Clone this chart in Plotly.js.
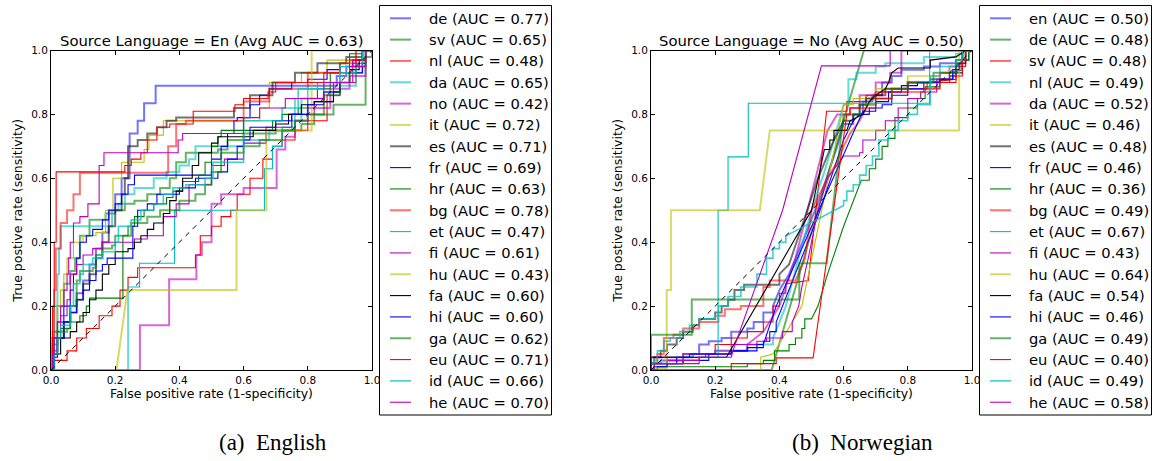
<!DOCTYPE html>
<html>
<head>
<meta charset="utf-8">
<script src="https://cdn.plot.ly/plotly-3.0.1.min.js"></script>
<style>html,body{margin:0;padding:0;background:#fff;}#chart{width:1156px;height:461px;}</style>
</head>
<body>
<div id="chart"></div>
<script>
// ---------- Data: Source language = En (step curves) ----------
const enLangs = ['de','sv','nl','da','no','it','es','fr','hr','bg','et','fi','hu','fa','hi','ga','eu','id','he'];
const enAUC = [0.77,0.65,0.48,0.65,0.42,0.72,0.71,0.69,0.63,0.78,0.47,0.61,0.43,0.60,0.60,0.62,0.71,0.66,0.70];
const enAvgAUC = 0.63;

const en_de_x = [0,0.005,0.02,0.04,0.06,0.08,0.1,0.12,0.14,0.16,0.18,0.2,0.22,0.245,0.27,0.29,0.326,0.89,0.92,0.95,0.97,1];
const en_de_y = [0,0.06,0.1,0.15,0.2,0.24,0.28,0.33,0.38,0.43,0.5,0.55,0.6,0.74,0.78,0.835,0.89,0.92,0.95,0.97,1,1];
const en_sv_x = [0,0.005,0.02,0.04,0.06,0.075,0.09,0.12,0.17,0.2,0.23,0.26,0.3,0.34,0.37,0.39,0.42,0.52,0.55,0.6,0.7,0.78,0.82,0.88,0.98,1];
const en_sv_y = [0,0.12,0.2,0.27,0.31,0.35,0.42,0.47,0.49,0.5,0.52,0.53,0.55,0.57,0.6,0.65,0.68,0.69,0.72,0.74,0.75,0.77,0.8,0.83,1,1];
const en_nl_x = [0,0.01,0.05,0.08,0.11,0.15,0.19,0.215,0.24,0.27,0.45,0.465,0.5,0.53,0.56,0.58,0.62,0.66,0.69,0.72,0.76,0.8,0.86,0.9,0.95,0.98,1];
const en_nl_y = [0,0.03,0.06,0.1,0.13,0.17,0.2,0.25,0.29,0.32,0.36,0.42,0.45,0.48,0.5,0.55,0.6,0.66,0.7,0.72,0.75,0.78,0.86,0.9,0.95,1,1];
const en_da_x = [0,0.005,0.01,0.02,0.025,0.03,0.19,0.21,0.23,0.26,0.32,0.36,0.4,0.43,0.45,0.5,0.6,0.68,0.75,0.78,0.85,0.9,0.95,0.97,1];
const en_da_y = [0,0.1,0.2,0.3,0.38,0.45,0.5,0.52,0.55,0.57,0.6,0.62,0.64,0.66,0.7,0.7,0.72,0.75,0.78,0.85,0.87,0.89,0.93,1,1];
const en_no_x = [0,0.277,0.368,0.453,0.47,0.5,0.53,0.6,0.703,0.73,0.76,0.8,0.87,0.93,0.98,1];
const en_no_y = [0,0.14,0.284,0.36,0.4,0.52,0.55,0.57,0.69,0.73,0.78,0.82,0.88,0.92,1,1];
const en_it_x = [0,0.01,0.02,0.03,0.04,0.05,0.07,0.1,0.14,0.17,0.193,0.22,0.29,0.305,0.35,0.65,0.68,0.78,0.86,0.95,1];
const en_it_y = [0,0.1,0.2,0.25,0.3,0.35,0.4,0.42,0.43,0.5,0.6,0.65,0.69,0.735,0.78,0.82,0.9,0.93,0.97,1,1];
const en_es_x = [0,0.01,0.02,0.04,0.06,0.08,0.1,0.12,0.14,0.16,0.18,0.2,0.22,0.23,0.24,0.27,0.3,0.33,0.36,0.39,0.57,0.62,0.69,0.76,0.83,0.92,0.97,1];
const en_es_y = [0,0.05,0.1,0.15,0.18,0.22,0.27,0.3,0.35,0.4,0.45,0.5,0.55,0.6,0.7,0.72,0.74,0.76,0.78,0.79,0.82,0.86,0.9,0.93,0.96,0.98,1,1];
const en_fr_x = [0,0.005,0.02,0.04,0.06,0.07,0.08,0.09,0.11,0.13,0.16,0.18,0.2,0.22,0.24,0.26,0.5,0.53,0.55,0.57,0.58,0.62,0.65,0.68,0.75,0.8,0.86,0.9,0.94,0.97,1];
const en_fr_y = [0,0.1,0.15,0.2,0.25,0.3,0.35,0.4,0.42,0.44,0.47,0.5,0.52,0.55,0.58,0.61,0.66,0.7,0.74,0.78,0.79,0.83,0.86,0.88,0.9,0.91,0.94,0.95,0.97,1,1];
const en_hr_x = [0,0.01,0.03,0.06,0.09,0.11,0.12,0.224,0.24,0.26,0.29,0.32,0.36,0.38,0.41,0.46,0.48,0.5,0.52,0.53,0.69,0.72,0.77,0.8,0.83,0.87,0.9,0.93,0.97,1];
const en_hr_y = [0,0.1,0.13,0.15,0.17,0.2,0.225,0.42,0.45,0.48,0.5,0.52,0.54,0.56,0.59,0.61,0.65,0.7,0.73,0.75,0.78,0.8,0.82,0.85,0.88,0.93,0.96,0.99,1,1];
const en_bg_x = [0,0.005,0.01,0.015,0.03,0.05,0.07,0.09,0.365,0.39,0.42,0.6,0.68,0.8,0.9,0.95,1];
const en_bg_y = [0,0.1,0.25,0.38,0.46,0.5,0.55,0.617,0.7,0.77,0.78,0.84,0.88,0.93,0.96,1,1];
const en_et_x = [0,0.24,0.276,0.385,0.665,0.69,0.72,0.76,0.8,0.83,0.9,0.97,1];
const en_et_y = [0,0.26,0.334,0.5,0.63,0.7,0.76,0.85,0.88,0.9,0.95,1,1];
const en_fi_x = [0,0.01,0.02,0.03,0.05,0.06,0.08,0.1,0.13,0.16,0.26,0.3,0.35,0.39,0.43,0.5,0.54,0.6,0.67,0.75,0.82,0.88,0.94,0.98,1];
const en_fi_y = [0,0.05,0.12,0.17,0.22,0.3,0.33,0.36,0.38,0.4,0.41,0.42,0.48,0.52,0.58,0.64,0.66,0.71,0.76,0.8,0.84,0.9,0.96,1,1];
const en_hu_x = [0,0.204,0.238,0.578,0.578,0.671,0.671,0.812,0.812,1];
const en_hu_y = [0,0,0.25,0.25,0.5,0.5,0.75,0.75,1,1];
const en_fa_x = [0,0.01,0.03,0.06,0.08,0.1,0.12,0.14,0.16,0.18,0.2,0.24,0.26,0.28,0.3,0.32,0.35,0.37,0.39,0.41,0.44,0.46,0.5,0.52,0.63,0.7,0.74,0.78,0.82,0.88,0.9,0.93,0.96,0.98,1];
const en_fa_y = [0,0.05,0.1,0.12,0.15,0.18,0.22,0.25,0.3,0.33,0.37,0.38,0.4,0.42,0.44,0.46,0.49,0.53,0.56,0.6,0.64,0.68,0.71,0.73,0.75,0.77,0.8,0.83,0.84,0.87,0.9,0.94,0.97,1,1];
const en_hi_x = [0,0.01,0.02,0.04,0.06,0.08,0.1,0.12,0.14,0.16,0.175,0.255,0.27,0.3,0.33,0.4,0.45,0.52,0.55,0.58,0.6,0.62,0.7,0.75,0.8,0.85,0.9,0.93,0.97,0.98,1];
const en_hi_y = [0,0.04,0.1,0.15,0.18,0.22,0.25,0.28,0.31,0.33,0.35,0.45,0.5,0.52,0.55,0.57,0.6,0.62,0.66,0.7,0.72,0.76,0.78,0.8,0.83,0.87,0.9,0.93,0.96,1,1];
const en_ga_x = [0,0.005,0.02,0.05,0.06,0.08,0.09,0.13,0.14,0.16,0.19,0.2,0.25,0.3,0.34,0.4,0.45,0.48,0.5,0.53,0.6,0.65,0.72,0.76,0.8,0.85,0.9,0.93,0.95,0.98,1];
const en_ga_y = [0,0.08,0.12,0.13,0.2,0.28,0.31,0.32,0.36,0.38,0.39,0.42,0.46,0.48,0.5,0.53,0.55,0.58,0.62,0.68,0.7,0.72,0.75,0.78,0.8,0.86,0.9,0.93,0.95,0.98,1];
const en_eu_x = [0,0.005,0.01,0.016,0.23,0.25,0.28,0.3,0.33,0.37,0.443,0.573,0.6,0.676,0.7,0.85,0.93,0.98,1];
const en_eu_y = [0,0.2,0.4,0.62,0.64,0.66,0.68,0.72,0.76,0.77,0.81,0.83,0.85,0.87,0.9,0.93,0.97,1,1];
const en_id_x = [0,0.01,0.02,0.03,0.06,0.07,0.09,0.1,0.13,0.16,0.2,0.21,0.25,0.28,0.32,0.35,0.38,0.42,0.48,0.505,0.6,0.72,0.77,0.85,0.9,0.95,0.97,1];
const en_id_y = [0,0.05,0.1,0.14,0.2,0.27,0.3,0.33,0.35,0.37,0.4,0.45,0.47,0.5,0.52,0.55,0.57,0.58,0.6,0.65,0.78,0.82,0.88,0.9,0.93,0.95,1,1];
const en_he_x = [0,0.005,0.01,0.02,0.03,0.04,0.05,0.055,0.06,0.07,0.09,0.115,0.15,0.165,0.396,0.41,0.6,0.65,0.73,0.85,0.93,0.98,1];
const en_he_y = [0,0.05,0.1,0.15,0.2,0.25,0.3,0.35,0.4,0.46,0.48,0.52,0.64,0.68,0.72,0.74,0.79,0.82,0.85,0.9,0.95,1,1];

// ---------- Data: Source language = No (corner points) ----------
const noLangs = ['en','de','sv','nl','da','it','es','fr','hr','bg','et','fi','hu','fa','hi','ga','eu','id','he'];
const noAUC = [0.50,0.48,0.48,0.49,0.52,0.46,0.48,0.46,0.36,0.49,0.67,0.43,0.64,0.54,0.46,0.49,0.40,0.49,0.58];
const noAvgAUC = 0.50;

const no_en_x = [0,0,0.03,0.03,0.1,0.1,0.13,0.13,0.15,0.15,0.18,0.18,0.22,0.22,0.25,0.25,0.3,0.3,0.32,0.32,0.35,0.35,0.38,0.38,0.4,0.43,0.48,0.53,0.58,0.6,0.63,0.63,0.66,0.66,0.69,0.69,0.72,0.72,0.75,0.75,0.78,0.78,0.85,0.85,0.9,0.9,0.95,0.95,0.97,0.97,1];
const no_en_y = [0,0.02,0.02,0.03,0.03,0.04,0.04,0.05,0.05,0.08,0.08,0.09,0.09,0.1,0.1,0.12,0.12,0.13,0.13,0.15,0.15,0.18,0.18,0.2,0.25,0.3,0.42,0.55,0.7,0.77,0.77,0.8,0.8,0.84,0.84,0.86,0.86,0.9,0.9,0.92,0.92,0.94,0.94,0.95,0.95,0.96,0.96,0.97,0.97,1,1];
const no_de_x = [0,0.376,0.663,1];
const no_de_y = [0,0,1,1];
const no_sv_x = [0,0,0.1,0.1,0.2,0.2,0.25,0.25,0.3,0.3,0.35,0.35,0.38,0.38,0.4,0.4,0.42,0.42,0.49,0.547,0.61,0.61,0.67,0.67,0.72,0.72,0.8,0.8,0.86,0.86,0.95,0.95,0.98,0.98,1];
const no_sv_y = [0,0.02,0.02,0.05,0.05,0.08,0.08,0.1,0.1,0.12,0.12,0.15,0.15,0.2,0.2,0.24,0.24,0.27,0.28,0.81,0.81,0.84,0.84,0.86,0.86,0.87,0.87,0.88,0.88,0.9,0.91,0.95,0.95,1,1];
const no_nl_x = [0,0,0.05,0.05,0.1,0.1,0.2,0.2,0.3,0.3,0.38,0.38,0.42,0.46,0.5,0.54,0.57,0.6,0.615,0.615,0.64,0.64,0.7,0.7,0.73,0.73,0.85,0.85,0.95,0.95,0.97,0.97,1];
const no_nl_y = [0,0.02,0.02,0.03,0.03,0.05,0.05,0.06,0.06,0.08,0.08,0.1,0.2,0.35,0.5,0.62,0.72,0.83,0.83,0.91,0.91,0.93,0.93,0.95,0.95,0.96,0.96,0.98,0.98,0.99,0.99,1,1];
const no_da_x = [0,0,0.1,0.1,0.2,0.2,0.3,0.3,0.35,0.4,0.45,0.5,0.55,0.58,0.62,0.62,0.65,0.65,0.7,0.7,0.745,0.745,0.78,0.78,1];
const no_da_y = [0,0.04,0.04,0.05,0.05,0.06,0.06,0.08,0.12,0.2,0.35,0.55,0.75,0.8,0.8,0.82,0.82,0.86,0.86,0.9,0.9,0.93,0.93,1,1];
const no_it_x = [0,0.342,0.342,0.38,0.47,0.6,0.63,0.63,0.7,0.7,0.8,0.8,0.9,0.9,0.95,0.95,0.97,0.97,1];
const no_it_y = [0,0,0.04,0.05,0.2,0.83,0.83,0.85,0.85,0.88,0.88,0.92,0.92,0.93,0.93,0.96,0.96,1,1];
const no_es_x = [0,0,0.01,0.01,0.03,0.03,0.05,0.05,0.08,0.08,0.1,0.1,0.13,0.13,0.15,0.15,0.2,0.2,0.22,0.22,0.24,0.24,0.26,0.26,0.29,0.29,0.4,0.4,0.43,0.47,0.52,0.57,0.6,0.63,0.63,0.65,0.65,0.67,0.67,0.7,0.7,0.73,0.73,0.8,0.8,0.87,0.87,0.93,0.93,0.95,0.95,0.97,0.97,1];
const no_es_y = [0,0.02,0.02,0.04,0.04,0.06,0.06,0.08,0.08,0.1,0.1,0.12,0.12,0.14,0.14,0.16,0.16,0.18,0.18,0.2,0.2,0.22,0.22,0.25,0.25,0.267,0.267,0.3,0.33,0.45,0.6,0.72,0.78,0.78,0.8,0.8,0.83,0.83,0.85,0.85,0.86,0.86,0.88,0.88,0.9,0.9,0.91,0.91,0.92,0.92,0.96,0.96,1,1];
const no_fr_x = [0,0.02,0.02,0.05,0.05,0.1,0.1,0.18,0.18,0.25,0.25,0.3,0.3,0.35,0.35,0.37,0.37,0.39,0.39,0.41,0.43,0.47,0.52,0.56,0.6,0.63,0.65,0.68,0.68,0.72,0.72,0.75,0.75,0.8,0.8,0.85,0.85,0.9,0.9,0.94,0.94,0.97,0.97,0.99,0.99,1];
const no_fr_y = [0,0,0.01,0.01,0.02,0.02,0.03,0.03,0.05,0.05,0.06,0.06,0.07,0.07,0.09,0.09,0.12,0.12,0.15,0.2,0.25,0.35,0.48,0.6,0.72,0.78,0.8,0.8,0.82,0.82,0.83,0.83,0.86,0.86,0.88,0.88,0.9,0.9,0.91,0.91,0.93,0.93,0.97,0.97,1,1];
const no_hr_x = [0,0.02,0.02,0.3,0.3,0.35,0.35,0.385,0.385,0.43,0.43,0.45,0.45,0.47,0.47,0.479,0.479,0.5,0.52,0.55,0.6,0.63,0.655,0.68,0.68,0.7,0.7,0.72,0.72,0.738,0.738,0.76,0.76,0.8,0.8,0.83,0.83,0.854,0.854,0.9,0.9,0.93,0.93,0.966,0.966,0.99,0.99,1];
const no_hr_y = [0,0,0.01,0.01,0.02,0.02,0.03,0.03,0.06,0.06,0.08,0.08,0.1,0.1,0.13,0.13,0.16,0.16,0.2,0.3,0.45,0.53,0.594,0.594,0.63,0.63,0.66,0.66,0.7,0.7,0.725,0.725,0.79,0.79,0.82,0.82,0.85,0.85,0.886,0.886,0.9,0.9,0.93,0.938,0.97,0.97,1,1];
const no_bg_x = [0,0,0.02,0.02,0.04,0.04,0.07,0.07,0.1,0.1,0.15,0.15,0.21,0.21,0.23,0.23,0.28,0.28,0.35,0.35,0.37,0.37,0.45,0.48,0.5,0.55,0.58,0.6,0.62,0.65,0.67,0.7,0.75,0.75,0.8,0.8,0.9,0.9,0.93,0.93,0.96,0.96,0.98,0.98,1];
const no_bg_y = [0,0.02,0.02,0.05,0.05,0.1,0.1,0.11,0.11,0.13,0.13,0.15,0.15,0.17,0.17,0.19,0.19,0.2,0.2,0.26,0.26,0.28,0.28,0.35,0.5,0.6,0.65,0.7,0.74,0.78,0.82,0.87,0.87,0.88,0.88,0.9,0.9,0.93,0.93,0.95,0.95,0.96,0.96,1,1];
const no_et_x = [0,0,0.05,0.05,0.209,0.209,0.24,0.24,0.303,0.303,0.868,0.868,1];
const no_et_y = [0,0.02,0.02,0.04,0.04,0.5,0.5,0.667,0.667,0.835,0.835,1,1];
const no_fi_x = [0,0.01,0.01,0.05,0.05,0.15,0.15,0.17,0.17,0.25,0.25,0.33,0.33,0.36,0.36,0.41,0.41,0.44,0.44,0.46,0.47,0.49,0.52,0.55,0.6,0.65,0.65,0.66,0.66,0.7,0.7,0.73,0.73,0.77,0.77,0.8,0.8,0.84,0.84,0.89,0.89,0.94,0.94,0.95,0.95,0.97,0.97,1];
const no_fi_y = [0,0,0.02,0.02,0.03,0.03,0.04,0.04,0.05,0.05,0.08,0.08,0.09,0.09,0.1,0.1,0.12,0.12,0.15,0.2,0.26,0.35,0.5,0.6,0.67,0.67,0.68,0.68,0.72,0.72,0.75,0.75,0.78,0.78,0.82,0.82,0.85,0.85,0.87,0.87,0.91,0.91,0.92,0.92,0.95,0.95,1,1];
const no_hu_x = [0,0,0.049,0.049,0.062,0.062,0.339,0.37,0.96,0.96,1];
const no_hu_y = [0,0.005,0.005,0.25,0.25,0.5,0.5,0.75,0.75,1,1];
const no_fa_x = [0,0,0.235,0.5,0.54,0.557,0.557,0.57,0.57,0.61,0.62,0.66,0.68,0.7,0.73,0.74,0.75,0.77,0.87,0.87,0.95,0.98,1];
const no_fa_y = [0,0.04,0.04,0.5,0.69,0.69,0.72,0.72,0.75,0.75,0.78,0.8,0.84,0.86,0.88,0.9,0.93,0.945,0.945,0.97,0.98,1,1];
const no_hi_x = [0,0.01,0.01,0.05,0.05,0.08,0.08,0.12,0.12,0.25,0.25,0.33,0.33,0.35,0.39,0.66,0.7,0.7,0.74,0.74,0.78,0.78,0.83,0.83,0.9,0.9,0.94,0.94,0.96,0.96,0.98,0.98,1];
const no_hi_y = [0,0,0.01,0.01,0.02,0.02,0.04,0.04,0.05,0.05,0.06,0.06,0.08,0.08,0.2,0.81,0.81,0.84,0.84,0.87,0.87,0.89,0.89,0.9,0.9,0.91,0.91,0.94,0.94,0.96,0.96,1,1];
const no_ga_x = [0,0,0.127,0.127,0.462,0.462,0.547,0.6,0.65,0.65,0.7,0.7,0.75,0.75,0.8,0.8,0.88,0.88,0.95,0.95,0.98,0.98,1];
const no_ga_y = [0,0.11,0.11,0.221,0.221,0.334,0.334,0.8,0.8,0.83,0.83,0.85,0.85,0.88,0.88,0.9,0.9,0.93,0.93,0.97,0.97,1,1];
const no_eu_x = [0,0.25,0.25,0.39,0.39,0.505,0.61,0.62,0.62,0.7,0.7,0.75,0.75,0.85,0.85,0.9,0.9,0.95,0.95,0.97,0.97,0.98,0.98,1];
const no_eu_y = [0,0,0.02,0.02,0.038,0.038,0.8,0.8,0.82,0.82,0.85,0.85,0.87,0.87,0.88,0.88,0.9,0.9,0.92,0.92,0.97,0.97,1,1];
const no_id_x = [0,0.01,0.01,0.02,0.02,0.04,0.04,0.06,0.06,0.09,0.09,0.12,0.12,0.15,0.15,0.2,0.2,0.21,0.21,0.24,0.24,0.28,0.28,0.33,0.33,0.36,0.36,0.38,0.38,0.4,0.4,0.42,0.42,0.44,0.6,0.6,0.61,0.61,0.63,0.63,0.65,0.65,0.67,0.67,0.69,0.69,0.71,0.71,0.74,0.74,0.77,0.77,0.8,0.8,0.83,0.83,0.87,0.87,0.9,0.9,0.95,0.95,0.97,0.97,1];
const no_id_y = [0,0,0.03,0.03,0.06,0.06,0.09,0.09,0.1,0.1,0.12,0.12,0.14,0.14,0.16,0.16,0.17,0.17,0.2,0.2,0.23,0.23,0.26,0.26,0.3,0.3,0.35,0.35,0.38,0.38,0.4,0.4,0.42,0.43,0.515,0.53,0.53,0.56,0.56,0.58,0.58,0.61,0.61,0.64,0.64,0.67,0.67,0.72,0.72,0.75,0.75,0.78,0.78,0.8,0.8,0.83,0.83,0.92,0.92,0.95,0.95,0.97,0.97,1,1];
const no_he_x = [0,0.01,0.01,0.15,0.15,0.25,0.255,0.41,0.531,0.745,0.745,1];
const no_he_y = [0,0,0.02,0.02,0.04,0.04,0.06,0.5,0.952,0.952,1,1];

const ticks = [0,0.2,0.4,0.6,0.8,1.0];
const tickText = ['0.0','0.2','0.4','0.6','0.8','1.0'];

// ---------- Styles ----------
const lineColors = [
  'rgba(0,0,255,0.55)','rgba(0,128,0,0.6)','rgb(255,0,0)','rgba(0,191,191,0.6)','rgba(191,0,191,0.6)',
  'rgb(191,191,0)','rgba(0,0,0,0.55)','rgb(0,0,255)','rgb(0,128,0)','rgba(255,0,0,0.55)',
  'rgb(0,191,191)','rgb(191,0,191)','rgba(191,191,0,0.6)','rgb(0,0,0)','rgb(0,0,255)',
  'rgba(0,128,0,0.6)','rgb(255,0,0)','rgba(0,191,191,0.75)','rgb(191,0,191)'];
const lineWidths = [2,2,1.1,2,2,1.1,2,1.1,1.1,2,1.1,1.1,2,1.1,1.1,2,1.1,1.6,1.1];

const enSeries = {de:[en_de_x,en_de_y],sv:[en_sv_x,en_sv_y],nl:[en_nl_x,en_nl_y],da:[en_da_x,en_da_y],no:[en_no_x,en_no_y],
  it:[en_it_x,en_it_y],es:[en_es_x,en_es_y],fr:[en_fr_x,en_fr_y],hr:[en_hr_x,en_hr_y],bg:[en_bg_x,en_bg_y],et:[en_et_x,en_et_y],
  fi:[en_fi_x,en_fi_y],hu:[en_hu_x,en_hu_y],fa:[en_fa_x,en_fa_y],hi:[en_hi_x,en_hi_y],ga:[en_ga_x,en_ga_y],eu:[en_eu_x,en_eu_y],
  id:[en_id_x,en_id_y],he:[en_he_x,en_he_y]};
const noSeries = {en:[no_en_x,no_en_y],de:[no_de_x,no_de_y],sv:[no_sv_x,no_sv_y],nl:[no_nl_x,no_nl_y],da:[no_da_x,no_da_y],
  it:[no_it_x,no_it_y],es:[no_es_x,no_es_y],fr:[no_fr_x,no_fr_y],hr:[no_hr_x,no_hr_y],bg:[no_bg_x,no_bg_y],et:[no_et_x,no_et_y],
  fi:[no_fi_x,no_fi_y],hu:[no_hu_x,no_hu_y],fa:[no_fa_x,no_fa_y],hi:[no_hi_x,no_hi_y],ga:[no_ga_x,no_ga_y],eu:[no_eu_x,no_eu_y],
  id:[no_id_x,no_id_y],he:[no_he_x,no_he_y]};
const enLinear = ['hu'];

const W = 1156, H = 461;
const traces = [];
const shapes = [];
const annotations = [];

function label(lang, auc) { return lang + ' (AUC = ' + auc.toFixed(2) + ')'; }

enLangs.forEach((lang, i) => {
  traces.push({
    x: enSeries[lang][0], y: enSeries[lang][1], xaxis:'x', yaxis:'y', type:'scatter', mode:'lines',
    name: label(lang, enAUC[i]), showlegend:false,
    line:{color:lineColors[i], width:lineWidths[i], shape: enLinear.includes(lang) ? 'linear' : 'hv'},
    hoverinfo:'skip'
  });
});
traces.push({x:[0,1], y:[0,1], xaxis:'x', yaxis:'y', mode:'lines', showlegend:false,
  line:{color:'black', width:1, dash:'5px,5px'}, hoverinfo:'skip'});
noLangs.forEach((lang, i) => {
  traces.push({
    x: noSeries[lang][0], y: noSeries[lang][1], xaxis:'x2', yaxis:'y2', type:'scatter', mode:'lines',
    name: label(lang, noAUC[i]), showlegend:false,
    line:{color:lineColors[i], width:lineWidths[i], shape:'linear'},
    hoverinfo:'skip'
  });
});
traces.push({x:[0,1], y:[0,1], xaxis:'x2', yaxis:'y2', mode:'lines', showlegend:false,
  line:{color:'black', width:1, dash:'5px,5px'}, hoverinfo:'skip'});

// ---------- Legend boxes (matplotlib style), drawn from the language/AUC arrays ----------
function drawLegend(left, langs, aucs) {
  shapes.push({type:'rect', xref:'paper', yref:'paper', layer:'above',
    x0:(left + 0.5)/W, x1:(left + 172.5)/W, y0:1 - 5.5/H, y1:1 - 415/H,
    line:{color:'#000', width:1}, fillcolor:'#fff'});
  langs.forEach((lang, i) => {
    const yc = 18.3 + i * 21.33;
    shapes.push({type:'line', xref:'paper', yref:'paper', layer:'above',
      x0:(left + 11)/W, x1:(left + 32)/W, y0:1 - yc/H, y1:1 - yc/H,
      line:{color:lineColors[i], width:lineWidths[i]}});
    annotations.push({text:label(lang, aucs[i]), xref:'paper', yref:'paper',
      x:(left + 47.5)/W, y:1 - yc/H, xanchor:'left', yanchor:'middle', showarrow:false,
      font:{family:'DejaVu Sans, sans-serif', size:14.7, color:'#000'}});
  });
}
drawLegend(379, enLangs, enAUC);
drawLegend(979, noLangs, noAUC);

annotations.push(
  {text:'Source Language = En (Avg AUC = ' + enAvgAUC.toFixed(2) + ')', xref:'paper', yref:'paper',
    x:211.5/W, y:1 - 40/H, xanchor:'center', yanchor:'middle', showarrow:false,
    font:{family:'DejaVu Sans, sans-serif', size:14.8, color:'#000'}},
  {text:'Source Language = No (Avg AUC = ' + noAvgAUC.toFixed(2) + ')', xref:'paper', yref:'paper',
    x:811.5/W, y:1 - 40/H, xanchor:'center', yanchor:'middle', showarrow:false,
    font:{family:'DejaVu Sans, sans-serif', size:14.8, color:'#000'}},
  {text:'(a)  English', xref:'paper', yref:'paper', x:273/W, y:1 - 442/H, xanchor:'center', yanchor:'middle',
    showarrow:false, font:{family:'Liberation Serif, Times New Roman, serif', size:23, color:'#000'}},
  {text:'(b)  Norwegian', xref:'paper', yref:'paper', x:863/W, y:1 - 442/H, xanchor:'center', yanchor:'middle',
    showarrow:false, font:{family:'Liberation Serif, Times New Roman, serif', size:23, color:'#000'}}
);

const axisFont = {family:'DejaVu Sans, sans-serif', size:10.5, color:'#000'};
const titleFont = {family:'DejaVu Sans, sans-serif', size:12.5, color:'#000'};
function xAxis(domain, anchor) {
  return {domain:domain, anchor:anchor, range:[0,1], showgrid:false, zeroline:false,
    showline:true, linecolor:'#000', linewidth:1, mirror:'ticks', ticks:'inside', ticklen:4, tickcolor:'#000',
    tickvals:ticks, ticktext:tickText, tickfont:axisFont,
    title:{text:'False positive rate (1-specificity)', font:titleFont, standoff:4}};
}
function yAxis(domain, anchor) {
  return {domain:domain, anchor:anchor, range:[0,1], showgrid:false, zeroline:false,
    showline:true, linecolor:'#000', linewidth:1, mirror:'ticks', ticks:'inside', ticklen:4, tickcolor:'#000',
    tickvals:ticks, ticktext:tickText, tickfont:axisFont,
    title:{text:'True postive rate (sensitivity)', font:titleFont, standoff:5}};
}
const yDom = [1 - 370/H, 1 - 50.5/H];

const layout = {
  width:W, height:H, margin:{l:0,r:0,t:0,b:0}, paper_bgcolor:'#fff', plot_bgcolor:'#fff',
  font:{family:'DejaVu Sans, sans-serif', color:'#000'}, showlegend:false,
  xaxis: xAxis([51/W, 372/W], 'y'),
  yaxis: yAxis(yDom, 'x'),
  xaxis2: xAxis([651/W, 972/W], 'y2'),
  yaxis2: yAxis(yDom, 'x2'),
  shapes: shapes,
  annotations: annotations
};

Plotly.newPlot('chart', traces, layout, {staticPlot:true, displayModeBar:false});
</script>
</body>
</html>
